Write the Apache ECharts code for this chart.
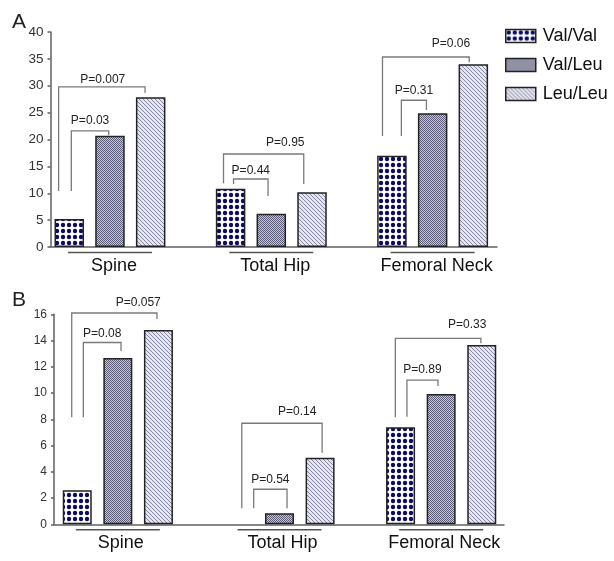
<!DOCTYPE html>
<html><head><meta charset="utf-8">
<script src="https://cdn.jsdelivr.net/npm/echarts@6/dist/echarts.min.js"></script>
<style>html,body{margin:0;padding:0;background:#fff}#c{width:614px;height:561px}</style>
</head><body><div id="c"></div>
<script>
// ---------- DATA ----------
const categories = ['Spine', 'Total Hip', 'Femoral Neck'];
const seriesNames = ['Val/Val', 'Val/Leu', 'Leu/Leu'];
// Panel A
const valA_VV = [5.2, 10.85, 17.0];
const valA_VL = [20.7, 6.2, 24.9];
const valA_LL = [27.85, 10.2, 34.0];
const ticksA = { min: 0, max: 40, step: 5 };
// Panel B
const valB_VV = [2.6, '-', 7.4];
const valB_VL = [12.67, 0.84, 9.93];
const valB_LL = [14.8, 5.07, 13.66];
const ticksB = { min: 0, max: 16, step: 2 };
// Significance brackets, panel A
const bracketLabelA = ['P=0.03', 'P=0.007', 'P=0.44', 'P=0.95', 'P=0.31', 'P=0.06'];
const bracketCatA = [0, 0, 1, 1, 2, 2];
const bracketFromA = [0, 0, 0, 0, 0, 0];
const bracketToA = [1, 2, 1, 2, 1, 2];
const bracketTopA = [21.6, 29.8, 12.65, 17.3, 27.3, 35.35];
const bracketLeftEndA = [10.4, 10.4, 11.7, 11.85, 20.65, 20.65];
const bracketRightEndA = [20.8, 28.7, 9.5, 11.7, 25.5, 34.35];
// Significance brackets, panel B
const bracketLabelB = ['P=0.08', 'P=0.057', 'P=0.54', 'P=0.14', 'P=0.89', 'P=0.33'];
const bracketCatB = [0, 0, 1, 1, 2, 2];
const bracketFromB = [0, 0, 0, 0, 0, 0];
const bracketToB = [1, 2, 1, 2, 1, 2];
const bracketTopB = [13.85, 16.1, 2.67, 7.7, 10.99, 14.17];
const bracketLeftEndB = [8.15, 8.15, 1.22, 1.22, 8.2, 8.15];
const bracketRightEndB = [13.2, 15.65, 1.22, 5.46, 10.54, 13.8];

// ---------- LAYOUT / STYLE ----------
const legShiftA = [[0.07,-0.04],[-0.36,-0.19],[0.1,-0.11],[-0.24,-0.28],[0.32,-0.21],[-0.32,-0.14]];
const labelFracA = [0.5,0.51,0.5,0.77,0.5,0.79];
const labelDyA = [10,7.5,8.5,11.5,9.5,13];
const legShiftB = [[0.21,0.11],[-0.19,-0.05],[0.51,0.26],[0.1,0.07],[0.22,-0.11],[-0.18,-0.03]];
const labelFracB = [0.5,0.78,0.5,0.69,0.5,0.84];
const labelDyB = [8.5,10.5,9.5,11.5,10.5,13.5];
const BW_A = 29.5, GAP_A = 0.38, BW_B = 29, GAP_B = 0.4;
const FONT = '"Liberation Sans", Arial, sans-serif';

function tile(w, h, draw) {
  const c = document.createElement('canvas'); c.width = w; c.height = h;
  draw(c.getContext('2d')); return c;
}
const patDots = tile(6, 6, g => {
  g.fillStyle = '#fff'; g.fillRect(0, 0, 6, 6);
  g.fillStyle = '#0c0c63'; g.beginPath(); g.arc(3, 3, 2.2, 0, Math.PI * 2); g.fill();
});
const patChecker = tile(2, 2, g => {
  g.fillStyle = '#c6c6d4'; g.fillRect(0, 0, 2, 2);
  g.fillStyle = '#5c5c78'; g.fillRect(0, 0, 1, 1); g.fillRect(1, 1, 1, 1);
});
const patHatch = tile(4, 4, g => {
  g.fillStyle = '#e6e6ef'; g.fillRect(0, 0, 4, 4);
  g.fillStyle = '#8585a6';
  for (let i = 0; i < 4; i++) g.fillRect(i, i, 1, 1);
});
const fills = [patDots, patChecker, patHatch].map(img => ({ image: img, repeat: 'repeat' }));

function bars(vals, idx, xi, yi, bw, gap) {
  return vals.map((v, k) => ({
    name: seriesNames[k], type: 'bar', xAxisIndex: xi, yAxisIndex: yi,
    data: v, barWidth: bw, barGap: (gap * 100) + '%',
    itemStyle: { color: fills[k], borderColor: '#222', borderWidth: 1.5 },
    z: 2
  }));
}

function bracketSeries(xi, yi, lbl, cat, from, to, top, le, re, shift, frac, dy, bw, gap) {
  const pitch = bw * (1 + gap);
  return {
    type: 'custom', xAxisIndex: xi, yAxisIndex: yi, clip: false, z: 3,
    data: cat.map((c, i) => [c, top[i]]),
    renderItem: function (params, api) {
      const i = params.dataIndex;
      const c = api.coord([cat[i], 0])[0];
      const x1 = c + (from[i] - 1) * pitch + shift[i][0] * bw;
      const x2 = c + (to[i] - 1) * pitch + shift[i][1] * bw;
      const yt = api.coord([cat[i], top[i]])[1];
      const yl = api.coord([cat[i], le[i]])[1];
      const yr = api.coord([cat[i], re[i]])[1];
      return {
        type: 'group', children: [
          { type: 'polyline', shape: { points: [[x1, yl], [x1, yt], [x2, yt], [x2, yr]] },
            style: { stroke: '#7a7a7a', lineWidth: 1.3, fill: null } },
          { type: 'text', x: x1 + (x2 - x1) * frac[i], y: yt - dy[i],
            style: { text: lbl[i], fill: '#222', fontSize: 12, fontFamily: FONT, align: 'center', verticalAlign: 'middle' } }
        ]
      };
    }
  };
}

function underlineSeries(xi, yi) {
  return {
    type: 'custom', xAxisIndex: xi, yAxisIndex: yi, clip: false, z: 3,
    data: categories.map((c, i) => [i, 0]),
    renderItem: function (params, api) {
      const p = api.coord([params.dataIndex, 0]);
      return { type: 'line', shape: { x1: p[0] - 42, y1: p[1] + 5.5, x2: p[0] + 42, y2: p[1] + 5.5 },
        style: { stroke: '#555', lineWidth: 1.5 } };
    }
  };
}

const axisLineStyle = { color: '#606060', width: 1.5 };

const option = {
  animation: false,
  backgroundColor: '#fff',
  title: [
    { text: 'A', left: 7, top: 7, textStyle: { fontSize: 21, fontWeight: 'normal', color: '#222', fontFamily: FONT } },
    { text: 'B', left: 7, top: 285, textStyle: { fontSize: 21, fontWeight: 'normal', color: '#222', fontFamily: FONT } }
  ],
  legend: {
    data: seriesNames, orient: 'vertical', left: 500, top: 22,
    itemWidth: 30, itemHeight: 13, itemGap: 11, icon: 'rect',
    itemStyle: { borderColor: '#222', borderWidth: 1.5 },
    textStyle: { fontSize: 18, color: '#111', fontFamily: FONT, padding: [0, 0, 0, 2] },
    selectedMode: false
  },
  grid: [
    { left: 50.5, right: 117, top: 32, bottom: 314 },
    { left: 29.3, right: 100.7, top: 32, bottom: 314 },
    { left: 54, right: 110, top: 314.3, bottom: 36.7 },
    { left: 37, right: 92, top: 314.3, bottom: 36.7 }
  ],
  xAxis: [
    { gridIndex: 0, type: 'value', min: 0, max: 1, axisLine: { show: true, lineStyle: axisLineStyle }, axisTick: { show: false }, axisLabel: { show: false }, splitLine: { show: false } },
    { gridIndex: 1, type: 'category', data: categories, axisLine: { show: false }, axisTick: { show: false },
      axisLabel: { fontSize: 18, color: '#111', fontFamily: FONT, margin: 10, padding: [0, 0, 0, 8] } },
    { gridIndex: 2, type: 'value', min: 0, max: 1, axisLine: { show: true, lineStyle: axisLineStyle }, axisTick: { show: false }, axisLabel: { show: false }, splitLine: { show: false } },
    { gridIndex: 3, type: 'category', data: categories, axisLine: { show: false }, axisTick: { show: false },
      axisLabel: { fontSize: 18, color: '#111', fontFamily: FONT, margin: 10, padding: [0, 0, 0, 6] } }
  ],
  yAxis: [
    { gridIndex: 0, type: 'value', min: ticksA.min, max: ticksA.max, interval: ticksA.step,
      axisLine: { show: true, lineStyle: axisLineStyle }, axisTick: { show: true, length: 3, lineStyle: axisLineStyle },
      axisLabel: { fontSize: 13.5, color: '#333', fontFamily: FONT, margin: 7 }, splitLine: { show: false } },
    { gridIndex: 1, type: 'value', min: ticksA.min, max: ticksA.max, show: false, splitLine: { show: false } },
    { gridIndex: 2, type: 'value', min: ticksB.min, max: ticksB.max, interval: ticksB.step,
      axisLine: { show: true, lineStyle: axisLineStyle }, axisTick: { show: true, length: 3, lineStyle: axisLineStyle },
      axisLabel: { fontSize: 12, color: '#333', fontFamily: FONT, margin: 7 }, splitLine: { show: false } },
    { gridIndex: 3, type: 'value', min: ticksB.min, max: ticksB.max, show: false, splitLine: { show: false } }
  ],
  series: [].concat(
    bars([valA_VV, valA_VL, valA_LL], 0, 1, 1, BW_A, GAP_A),
    bars([valB_VV, valB_VL, valB_LL], 1, 3, 3, BW_B, GAP_B),
    [bracketSeries(1, 1, bracketLabelA, bracketCatA, bracketFromA, bracketToA, bracketTopA, bracketLeftEndA, bracketRightEndA, legShiftA, labelFracA, labelDyA, BW_A, GAP_A),
     bracketSeries(3, 3, bracketLabelB, bracketCatB, bracketFromB, bracketToB, bracketTopB, bracketLeftEndB, bracketRightEndB, legShiftB, labelFracB, labelDyB, BW_B, GAP_B),
     underlineSeries(1, 1), underlineSeries(3, 3)]
  )
};
const chart = echarts.init(document.getElementById('c'), null, { renderer: 'canvas' });
chart.setOption(option);
</script></body></html>
